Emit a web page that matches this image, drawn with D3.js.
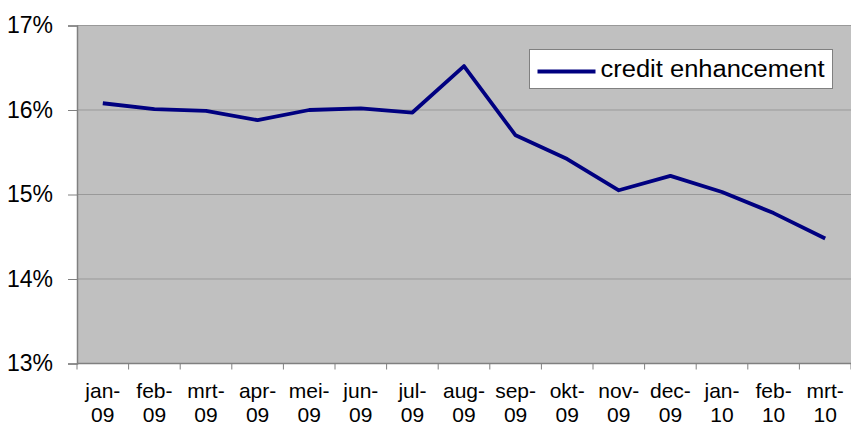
<!DOCTYPE html>
<html>
<head>
<meta charset="utf-8">
<script src="https://cdn.jsdelivr.net/npm/d3@7"></script>
<style>
  html, body { margin: 0; padding: 0; background: #fff; }
  svg { display: block; font-family: "Liberation Sans", Arial, sans-serif; }
</style>
</head>
<body>
<svg id="chart" width="851" height="427"></svg>
<script>
const months = ['jan-', 'feb-', 'mrt-', 'apr-', 'mei-', 'jun-', 'jul-', 'aug-', 'sep-', 'okt-', 'nov-', 'dec-', 'jan-', 'feb-', 'mrt-'];
const years = ['09', '09', '09', '09', '09', '09', '09', '09', '09', '09', '09', '09', '10', '10', '10'];
const creditEnhancement = [0.1608, 0.1601, 0.1599, 0.1588, 0.1600, 0.1602, 0.1597, 0.1652, 0.1570, 0.1542, 0.1505, 0.1522, 0.1503, 0.1478, 0.1448];
const yTicks = [0.13, 0.14, 0.15, 0.16, 0.17];
const seriesName = 'credit enhancement';

const svg = d3.select('#chart');
const plot = { left: 77, right: 851, top: 25.5, bottom: 363.5 };
const keys = months.map((m, i) => i);

const x = d3.scaleBand().domain(keys).range([plot.left, plot.right]);
const y = d3.scaleLinear().domain([0.13, 0.17]).range([plot.bottom, plot.top]);

// plot background
svg.append('rect')
  .attr('x', plot.left).attr('y', plot.top)
  .attr('width', plot.right - plot.left).attr('height', plot.bottom - plot.top)
  .attr('fill', '#c0c0c0');

// gridlines
svg.append('g').selectAll('line')
  .data(yTicks.slice(1))
  .join('line')
  .attr('x1', plot.left).attr('x2', plot.right)
  .attr('y1', d => y(d)).attr('y2', d => y(d))
  .attr('stroke', '#999').attr('stroke-width', 1);

// y axis
const yAxis = svg.append('g')
  .attr('transform', `translate(${plot.left},0)`)
  .call(d3.axisLeft(y).tickValues(yTicks).tickFormat(d3.format('.0%')).tickSize(9).tickPadding(15));
yAxis.select('.domain').attr('stroke', '#808080').attr('stroke-width', 1.5);
yAxis.selectAll('.tick line').attr('stroke', '#808080');
yAxis.selectAll('text').attr('font-size', 23).attr('fill', '#000').attr('font-family', '"Liberation Sans", Arial, sans-serif');

// x axis
const xTickPos = keys.map(k => x(k)).concat([plot.right]);
const xg = svg.append('g');
xg.append('line')
  .attr('x1', plot.left).attr('x2', plot.right)
  .attr('y1', plot.bottom).attr('y2', plot.bottom)
  .attr('stroke', '#808080').attr('stroke-width', 1.5);
xg.selectAll('.tk')
  .data(xTickPos)
  .join('line')
  .attr('class', 'tk')
  .attr('x1', d => d).attr('x2', d => d)
  .attr('y1', plot.bottom).attr('y2', plot.bottom + 6)
  .attr('stroke', '#808080');
const lbl = xg.selectAll('.lbl')
  .data(keys)
  .join('text')
  .attr('class', 'lbl')
  .attr('text-anchor', 'middle')
  .attr('font-size', 21)
  .attr('fill', '#000');
lbl.append('tspan')
  .attr('x', d => x(d) + x.bandwidth() / 2)
  .attr('y', 398)
  .text(d => months[d]);
lbl.append('tspan')
  .attr('x', d => x(d) + x.bandwidth() / 2)
  .attr('y', 422)
  .text(d => years[d]);

// line
const line = d3.line()
  .x((d, i) => x(i) + x.bandwidth() / 2)
  .y(d => y(d));
svg.append('path')
  .datum(creditEnhancement)
  .attr('fill', 'none')
  .attr('stroke', '#000080')
  .attr('stroke-width', 3.8)
  .attr('stroke-linejoin', 'round')
  .attr('d', line);

// legend
const lg = svg.append('g').attr('transform', 'translate(529.5,49.5)');
lg.append('rect')
  .attr('width', 303).attr('height', 39)
  .attr('fill', '#fff').attr('stroke', '#808080').attr('stroke-width', 1);
lg.append('line')
  .attr('x1', 8).attr('x2', 66).attr('y1', 22).attr('y2', 22)
  .attr('stroke', '#000080').attr('stroke-width', 3.8);
lg.append('text')
  .attr('x', 71).attr('y', 27.5)
  .attr('font-size', 23)
  .attr('textLength', 224)
  .attr('lengthAdjust', 'spacingAndGlyphs')
  .text(seriesName);
</script>
</body>
</html>
